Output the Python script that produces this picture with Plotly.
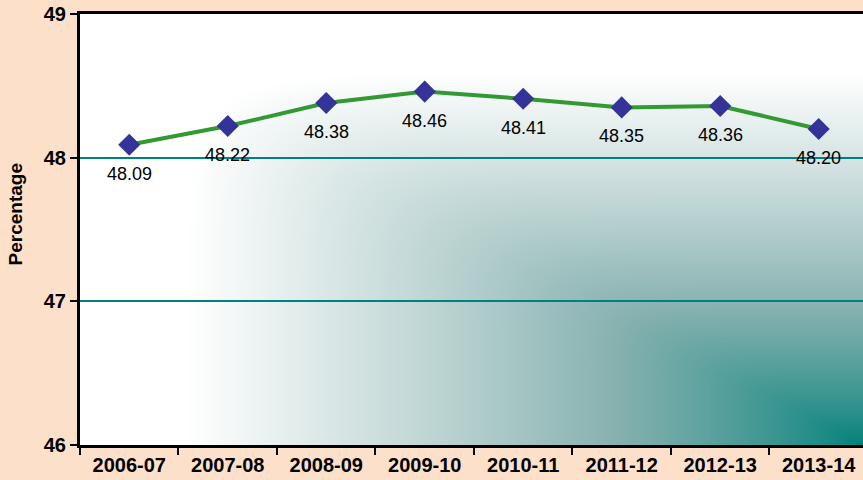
import base64
import struct
import zlib

import numpy as np
import plotly.graph_objects as go

# ---------------- data ----------------
years = ["2006-07", "2007-08", "2008-09", "2009-10", "2010-11", "2011-12", "2012-13", "2013-14"]
percentage = [48.09, 48.22, 48.38, 48.46, 48.41, 48.35, 48.36, 48.20]
y_ticks = [46, 47, 48, 49]
y_title = "Percentage"


# ---------------- gradient background (corner gradient) ----------------
def make_png(rgb):
    h, w, _ = rgb.shape
    raw = b"".join(b"\x00" + rgb[i].tobytes() for i in range(h))

    def chunk(tag, data):
        c = struct.pack(">I", len(data)) + tag + data
        return c + struct.pack(">I", zlib.crc32(tag + data) & 0xFFFFFFFF)

    png = b"\x89PNG\r\n\x1a\n"
    png += chunk(b"IHDR", struct.pack(">IIBBBBB", w, h, 8, 2, 0, 0, 0))
    png += chunk(b"IDAT", zlib.compress(raw, 9))
    png += chunk(b"IEND", b"")
    return "data:image/png;base64," + base64.b64encode(png).decode()


W, H = 783, 431
xx, yy = np.meshgrid(np.arange(W), np.arange(H))
u = (W - 1 - xx) / W
v = (H - 1 - yy) / H
p = 10.0
t = (u ** p + v ** p) ** (1.0 / p)
t = np.maximum(t, np.maximum(u, v))
s = np.clip(t / 0.86, 0, 1) ** 0.8
stops_s = np.array([0.0, 0.45, 1.0])
stops_c = np.array([[0, 128, 122], [135, 178, 176], [255, 255, 255]], dtype=float)
img = np.stack([np.interp(s, stops_s, stops_c[:, k]) for k in range(3)], axis=-1)
img = np.clip(img, 0, 255).astype(np.uint8)
bg_src = make_png(img)

# ---------------- figure ----------------
fig = go.Figure()
fig.add_trace(
    go.Scatter(
        x=years,
        y=percentage,
        mode="lines+markers",
        line=dict(color="#339933", width=4),
        marker=dict(symbol="diamond", size=17, color="#333399"),
        cliponaxis=False,
        showlegend=False,
        hoverinfo="skip",
    )
)

for yr, val in zip(years, percentage):
    fig.add_annotation(
        x=yr,
        y=val,
        text=f"{val:.2f}",
        showarrow=False,
        yshift=-29,
        font=dict(family="Liberation Sans, Arial, sans-serif", size=18, color="#000000"),
    )

fig.add_annotation(
    text=y_title,
    xref="paper",
    yref="paper",
    x=-0.083,
    y=0.535,
    xanchor="center",
    yanchor="middle",
    textangle=-90,
    showarrow=False,
    font=dict(family="Liberation Sans, Arial, sans-serif", size=19, weight="bold", color="#000000"),
)

fig.add_layout_image(
    dict(
        source=bg_src,
        xref="paper",
        yref="paper",
        x=0,
        y=1,
        sizex=1,
        sizey=1,
        sizing="stretch",
        layer="below",
    )
)

fig.update_layout(
    width=863,
    height=480,
    margin=dict(l=80, r=0, t=14, b=35),
    paper_bgcolor="#FCE0CA",
    plot_bgcolor="rgba(0,0,0,0)",
    font=dict(family="Liberation Sans, Arial, sans-serif", color="#000000"),
)

fig.update_xaxes(
    type="category",
    range=[-0.5, 7.45],
    showline=True,
    linecolor="#000000",
    linewidth=3,
    mirror=True,
    showgrid=False,
    ticks="outside",
    tickson="boundaries",
    ticklen=7,
    tickwidth=2,
    tickcolor="#000000",
    tickfont=dict(size=20, weight="bold", color="#000000"),
    zeroline=False,
)

fig.update_yaxes(
    range=[46, 49],
    tickvals=y_ticks,
    showline=True,
    linecolor="#000000",
    linewidth=3,
    showgrid=True,
    gridcolor="#008080",
    gridwidth=1.5,
    ticks="outside",
    ticklen=7,
    tickwidth=2,
    tickcolor="#000000",
    tickfont=dict(size=20, weight="bold", color="#000000"),
    zeroline=False,
)

fig.write_html(
    "out.html",
    config={"displayModeBar": False},
    post_script="document.body.style.margin='0';document.body.style.overflow='hidden';",
)
